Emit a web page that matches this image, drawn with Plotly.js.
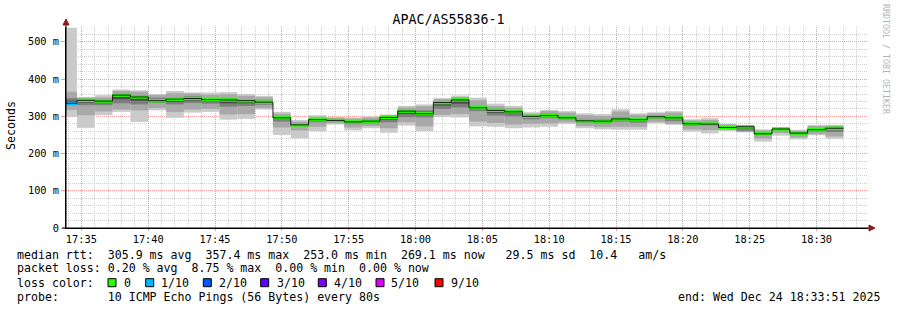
<!DOCTYPE html>
<html>
<head>
<meta charset="utf-8">
<script src="https://cdn.plot.ly/plotly-3.0.1.min.js"></script>
<style>
  html, body { margin: 0; padding: 0; background: #ffffff; }
  #chart { width: 897px; height: 310px; }
</style>
</head>
<body>
<div id="chart"></div>
<script>
// ---- data (SmokePing-style, 80 s bins starting 17:33:20, Dec 24 2025) ----
const firstBinStart = Date.UTC(2025, 11, 24, 17, 33, 20);
const stepSeconds = 80;
const viewStart = '2025-12-24 17:33:51';
const viewEnd = '2025-12-24 18:33:51';

const median = [335,343,341,357,352,342,346,348,345,344,342,338,296,277,291,289,285,287,297,314,307,337,344,323,316,312,300,302,296,288,287,293,291,299,296,280,279,270,272,253,266,255,264,268];
const lossTenths = [1,0,0,0,0,0,0,0,0,0,0,0,0,0,0,0,0,0,0,0,0,0,0,0,0,0,0,0,0,0,0,0,0,0,0,0,0,0,0,0,0,0,0,0];
const pingMin = [299,269,303,312,285,316,296,310,312,291,293,318,250,241,260,278,262,268,256,275,260,298,297,273,272,268,270,272,279,268,265,264,264,281,277,259,254,261,257,232,248,238,249,240];
const pingMax = [538,352,357,372,370,360,368,364,364,365,360,355,312,290,303,298,297,300,305,328,332,349,356,350,334,328,311,317,314,308,306,319,308,311,314,292,295,280,275,265,270,264,277,277];
const band2Hi = [366,350,351,368,366,357,362,361,358,359,355,351,307,286,299,296,294,297,303,324,327,346,352,343,328,323,307,314,310,303,301,313,304,308,310,289,290,278,274,262,269,261,274,275];
const band2Lo = [317,303,313,318,316,322,312,318,320,305,306,322,270,262,272,281,270,274,268,284,273,304,306,286,282,278,280,281,284,274,271,272,272,285,280,265,263,263,258,240,255,243,252,246];
const band3Hi = [349,346,343,360,356,350,350,354,349,349,346,343,300,280,294,292,288,291,300,317,316,340,347,328,319,316,303,307,300,293,292,298,295,302,300,284,283,273,273,256,267,257,268,271];
const band3Lo = [330,330,330,335,332,336,332,336,334,326,328,331,286,273,284,286,279,281,284,298,297,320,324,314,302,300,292,295,291,283,281,286,283,293,287,274,274,267,261,250,262,250,259,258];
const band4Hi = [342,345,342,359,354,346,348,351,347,347,344,341,298,279,293,291,287,289,299,316,312,339,346,326,318,314,302,305,298,291,290,296,293,301,298,282,281,272,273,255,267,256,266,270];
const band4Lo = [333,337,336,346,342,339,339,342,340,335,335,335,291,275,288,288,282,284,291,306,302,329,334,319,309,306,296,299,294,286,284,290,287,296,292,277,277,269,267,252,264,253,262,263];

const lossLabels = ['0','1/10','2/10','3/10','4/10','5/10','9/10'];
const lossLevels = [0,1,2,3,4,5,9];
const lossColors = ['#26ff00','#00b8ff','#0059ff','#5e00ff','#7e00ff','#dd00ff','#ff0000'];

const yTickVals = [0,100,200,300,400,500];
const yTickText = ['0','100 m','200 m','300 m','400 m','500 m'];

const title = 'APAC/AS55836-1';
const legendLines = [
  'median rtt:  305.9 ms avg  357.4 ms max  253.0 ms min  269.1 ms now   29.5 ms sd  10.4   am/s',
  'packet loss: 0.20 % avg  8.75 % max  0.00 % min  0.00 % now',
  'loss color:',
  'probe:       10 ICMP Echo Pings (56 Bytes) every 80s'
];
const endText = 'end: Wed Dec 24 18:33:51 2025';
const watermark = 'RRDTOOL / TOBI OETIKER';

// ---- build traces ----
const binStarts = median.map((_, i) => firstBinStart + i * stepSeconds * 1000);
const binWidth = stepSeconds * 1000;
const nb = s => s.replace(/ /g, '\u00a0');

function band(lo, hi, color) {
  return {
    type: 'bar', x: binStarts, base: lo, y: hi.map((h, i) => h - lo[i]),
    width: binWidth, offset: 0,
    marker: { color: color, line: { width: 0 } },
    hoverinfo: 'skip', showlegend: false
  };
}

const medianHalfThickness = 4.6;
const traces = [
  band(pingMin, pingMax, '#cacaca'),
  band(band2Lo, band2Hi, '#a8a8a8'),
  band(band3Lo, band3Hi, '#7e7e7e'),
  band(band4Lo, band4Hi, '#4a4a4a'),
  {
    type: 'scatter', mode: 'lines',
    x: binStarts.concat([binStarts[binStarts.length - 1] + binWidth]),
    y: median.concat([median[median.length - 1]]),
    line: { shape: 'hv', color: '#202020', width: 1 },
    hoverinfo: 'skip', showlegend: false
  },
  {
    type: 'bar', x: binStarts,
    base: median.map(m => m - medianHalfThickness), y: median.map(() => 2 * medianHalfThickness),
    width: binWidth, offset: 0,
    marker: { color: lossTenths.map(l => lossColors[lossLevels.indexOf(l)]), line: { width: 0 } },
    hoverinfo: 'skip', showlegend: false
  }
];

// ---- pixel helpers for layout decorations ----
const L = 66, R = 868, T = 27, B = 228;
const px = x => (x - L) / (R - L);
const py = y => (B - y) / (B - T);
const mono = 'DejaVu Sans Mono, monospace';
const legendSize = 11.6;

const annotations = [];
const lineY = [255, 268.3, 282.7, 296.7];
[0, 1, 2, 3].forEach(i => {
  annotations.push({
    text: nb(legendLines[i]), xref: 'paper', yref: 'paper',
    x: px(14.5), y: py(lineY[i]), xanchor: 'left', yanchor: 'middle',
    showarrow: false, font: { family: mono, size: legendSize, color: '#000' }
  });
});
annotations.push({
  text: nb(endText), xref: 'paper', yref: 'paper',
  x: px(882), y: py(lineY[3]), xanchor: 'right', yanchor: 'middle',
  showarrow: false, font: { family: mono, size: legendSize, color: '#000' }
});
const boxX = [108, 145.7, 203.3, 260.7, 318.3, 376, 435];
const labX = [121.5, 159, 217, 275, 332, 389, 449];
const shapes = [];
lossLabels.forEach((lab, i) => {
  annotations.push({
    text: nb(lab), xref: 'paper', yref: 'paper',
    x: px(labX[i]), y: py(lineY[2]), xanchor: 'left', yanchor: 'middle',
    showarrow: false, font: { family: mono, size: legendSize, color: '#000' }
  });
  shapes.push({
    type: 'rect', xref: 'paper', yref: 'paper',
    x0: px(boxX[i]), x1: px(boxX[i] + 8), y0: py(lineY[2] + 4), y1: py(lineY[2] - 4),
    fillcolor: lossColors[i], line: { color: '#000', width: 1 }
  });
});
annotations.push({
  text: 'Seconds', xref: 'paper', yref: 'paper', x: px(11), y: py(126),
  xanchor: 'center', yanchor: 'middle', textangle: -90, showarrow: false,
  font: { family: mono, size: 11.6, color: '#000' }
});
annotations.push({
  text: nb(watermark), xref: 'paper', yref: 'paper', x: px(886), y: py(59),
  xanchor: 'center', yanchor: 'middle', textangle: 90, showarrow: false,
  font: { family: mono, size: 8.3, color: '#b4b4b4' }
});

// axis extensions and arrows
shapes.push({ type: 'line', xref: 'paper', yref: 'paper', x0: px(66), x1: px(66), y0: py(228), y1: py(22), line: { color: '#000', width: 1 } });
shapes.push({ type: 'line', xref: 'paper', yref: 'paper', x0: px(62), x1: px(871), y0: py(228), y1: py(228), line: { color: '#000', width: 1 } });
shapes.push({ type: 'path', xref: 'paper', yref: 'paper',
  path: `M ${px(63)} ${py(25)} L ${px(69)} ${py(25)} L ${px(66)} ${py(19)} Z`,
  fillcolor: '#8b1a1a', line: { color: '#8b1a1a', width: 1 } });
shapes.push({ type: 'path', xref: 'paper', yref: 'paper',
  path: `M ${px(869)} ${py(225)} L ${px(869)} ${py(231)} L ${px(875)} ${py(228)} Z`,
  fillcolor: '#8b1a1a', line: { color: '#8b1a1a', width: 1 } });

const layout = {
  width: 897, height: 310,
  margin: { l: L, r: 897 - R, t: T, b: 310 - B, pad: 0 },
  paper_bgcolor: '#ffffff', plot_bgcolor: '#ffffff',
  title: { text: title, x: 0.5, xref: 'container', xanchor: 'center', y: 1 - 19 / 310, yanchor: 'middle', yref: 'container',
           font: { family: mono, size: 13.3, color: '#000' } },
  barmode: 'overlay', showlegend: false, hovermode: false,
  xaxis: {
    type: 'date', range: [viewStart, viewEnd],
    tick0: '2025-12-24 17:35:00', dtick: 300000, tickformat: '%H:%M',
    showgrid: true, gridcolor: '#f09898', griddash: '1px,1px', gridwidth: 1,
    showline: true, linecolor: '#000', linewidth: 1,
    ticks: 'outside', ticklen: 2, tickcolor: '#f09898',
    tickfont: { family: mono, size: 10.3, color: '#000' },
    minor: { dtick: 60000, showgrid: true, gridcolor: '#cfcfcf', griddash: '1px,1px', gridwidth: 1 },
    zeroline: false, fixedrange: true
  },
  yaxis: {
    range: [0, 540], tickvals: yTickVals, ticktext: yTickText,
    showgrid: true, gridcolor: '#f09898', griddash: '1px,1px', gridwidth: 1,
    showline: true, linecolor: '#000', linewidth: 1,
    ticks: 'outside', ticklen: 4, tickcolor: '#f09898',
    tickfont: { family: mono, size: 10.3, color: '#000' },
    minor: { tick0: 0, dtick: 20, showgrid: true, gridcolor: '#cfcfcf', griddash: '1px,1px', gridwidth: 1 },
    zeroline: false, fixedrange: true
  },
  annotations: annotations,
  shapes: shapes
};

Plotly.newPlot('chart', traces, layout, { staticPlot: true, displayModeBar: false });
</script>
</body>
</html>
